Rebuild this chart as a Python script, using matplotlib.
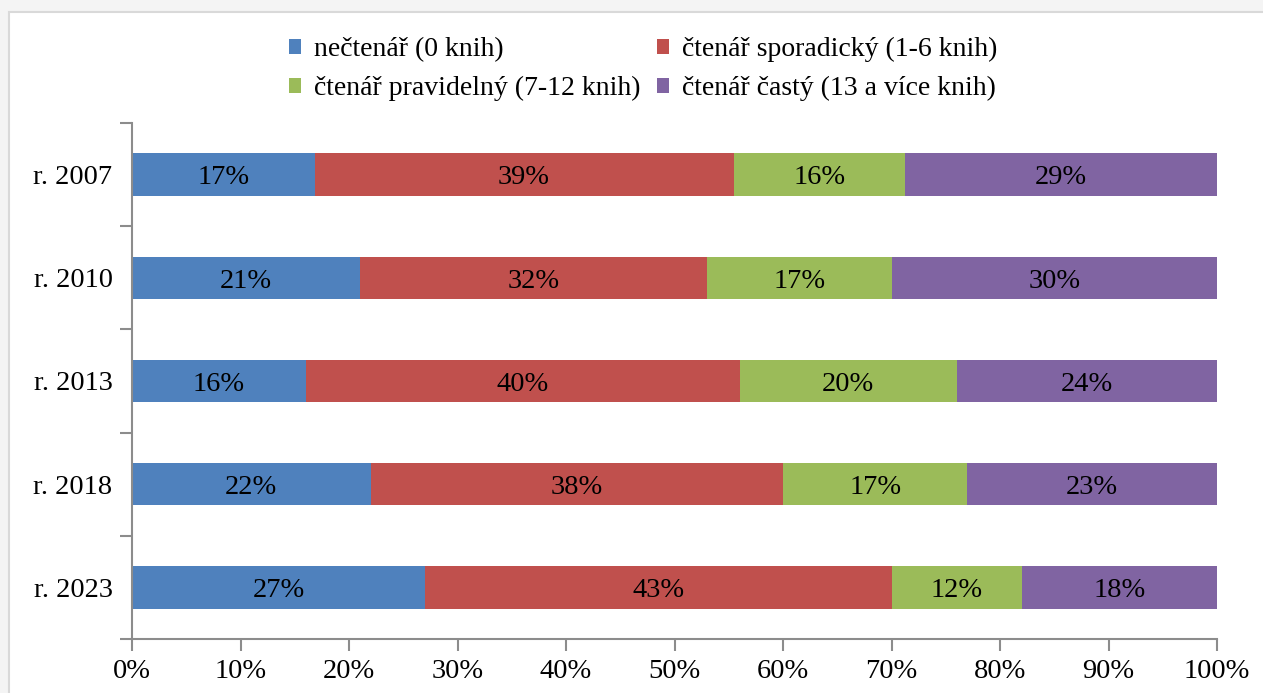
import matplotlib
matplotlib.use("Agg")
import matplotlib.pyplot as plt
from matplotlib.patches import Rectangle, Patch
import numpy as np

# data (shares in %, as labelled)
years = ["r. 2007", "r. 2010", "r. 2013", "r. 2018", "r. 2023"]
series = ["nečtenář (0 knih)", "čtenář sporadický (1-6 knih)",
          "čtenář pravidelný (7-12 knih)", "čtenář častý (13 a více knih)"]
necteni = [17, 21, 16, 22, 27]
sporadicky = [39, 32, 40, 38, 43]
pravidelny = [16, 17, 20, 17, 12]
casty = [29, 30, 24, 23, 18]
colors = ["#4F81BD", "#C0504D", "#9BBB59", "#8064A2"]

plt.rcParams['font.family'] = ['Liberation Serif', 'DejaVu Serif']

vals = np.array([necteni, sporadicky, pravidelny, casty], dtype=float)
shares = vals / vals.sum(axis=0) * 100  # 100 % stacked like Excel

fig = plt.figure(figsize=(12.63, 6.93), dpi=100, facecolor="#f4f4f4")
fig.patches.append(Rectangle((9 / 1263, -0.05), 1.1, 1 - 12 / 693 + 0.05,
                             transform=fig.transFigure, facecolor="white",
                             edgecolor="#d9d9d9", linewidth=1.5, zorder=-10))

ax = fig.add_axes([132 / 1263, 1 - 639 / 693, 1085 / 1263, 516 / 693])
ax.set_facecolor("none")

y = np.arange(len(years))
left = np.zeros(len(years))
for i in range(len(series)):
    ax.barh(y, shares[i], left=left, height=0.41, color=colors[i], label=series[i])
    for j in range(len(years)):
        ax.text(left[j] + shares[i][j] / 2, y[j] + 0.095, f"{int(vals[i][j])}%",
                ha="center", va="baseline", fontsize=20.5, color="black")
    left += shares[i]

ax.set_xlim(0, 100)
ax.set_ylim(len(years) - 0.5, -0.5)
ax.set_xticks(np.arange(0, 101, 10))
ax.set_xticklabels([f"{v}%" for v in range(0, 101, 10)], fontsize=20.5)
ax.set_yticks(np.arange(-0.5, len(years), 1.0))
ax.set_yticklabels([])
ax.set_yticks(y, minor=True)
ax.set_yticklabels(years, minor=True, fontsize=20.5)

spine_c = "#8c8c8c"
for s in ["top", "right"]:
    ax.spines[s].set_visible(False)
for s in ["left", "bottom"]:
    ax.spines[s].set_color(spine_c)
    ax.spines[s].set_linewidth(1.5)
ax.tick_params(axis="both", which="major", length=8.5, width=1.5, color=spine_c)
ax.tick_params(axis="x", pad=6)
ax.tick_params(axis="y", which="minor", length=0, pad=14)

# legend fills row-wise in the original
order = [0, 2, 1, 3]
handles = [Patch(facecolor=colors[k]) for k in order]
labels = [series[k] for k in order]
fig.legend(handles, labels, loc="center", bbox_to_anchor=(0.509, 0.9), ncol=2,
           frameon=False, fontsize=20, handlelength=0.45, handleheight=0.45,
           handletextpad=0.45, columnspacing=0.6, labelspacing=0.5, borderpad=0)

fig.savefig("out.png", dpi=100, facecolor=fig.get_facecolor())
